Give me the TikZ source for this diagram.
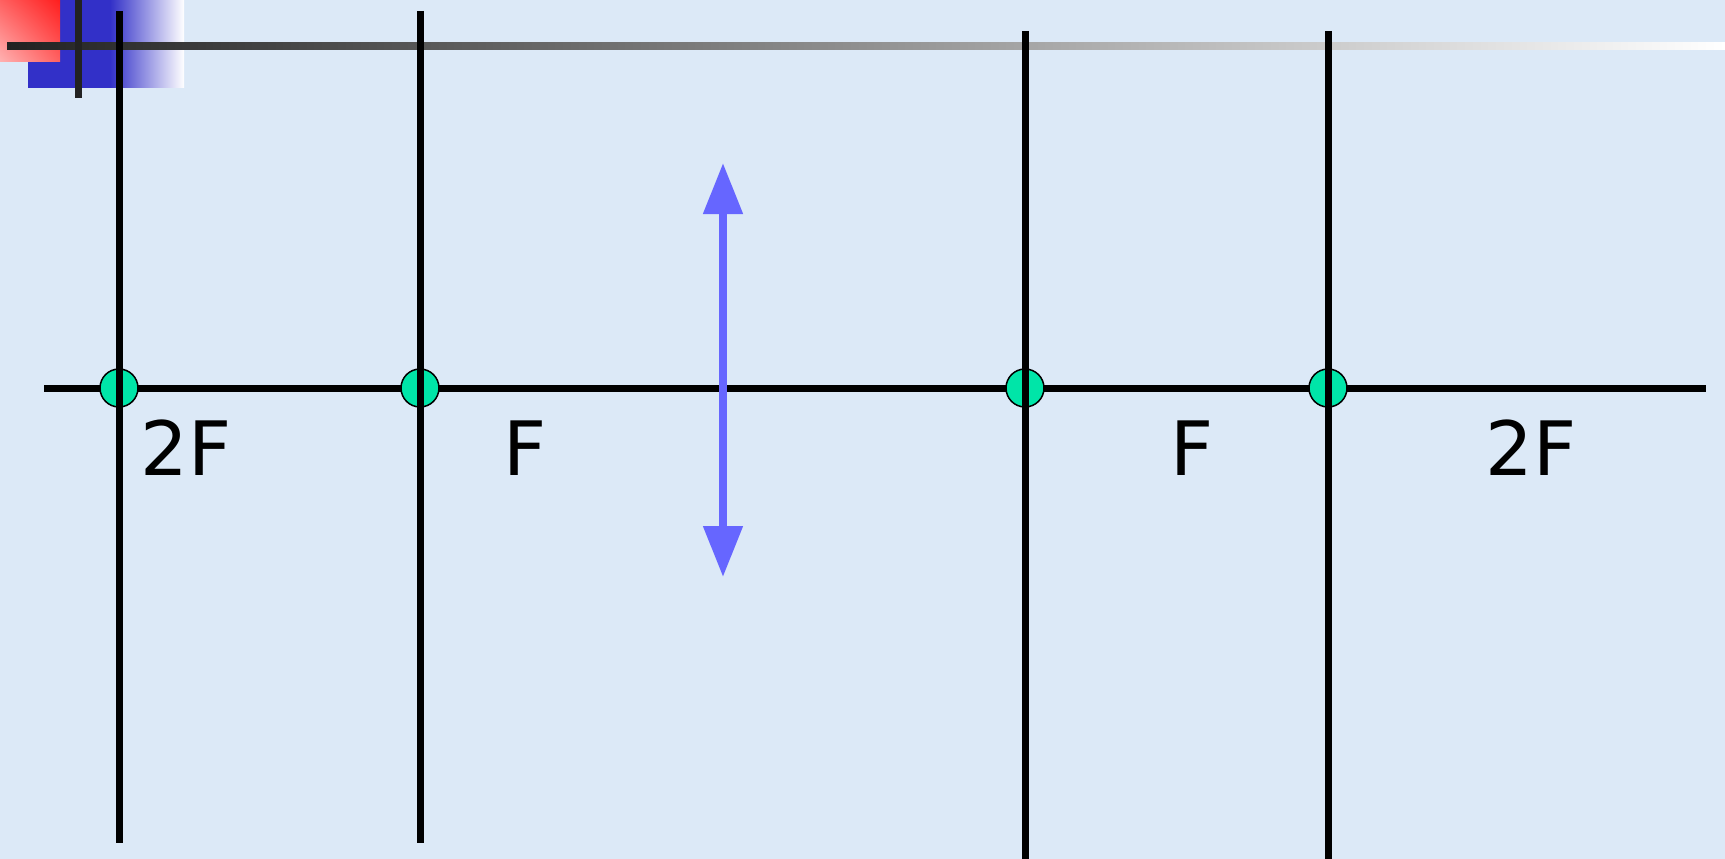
\documentclass[tikz,border=0pt]{standalone}
\usepackage{fontspec}
\setmainfont{DejaVu Sans}
\usetikzlibrary{arrows.meta, positioning, calc, shadings}
\definecolor{fondo}{RGB}{220,233,247}
\definecolor{rojo}{RGB}{255,30,30}
\definecolor{rosa}{RGB}{255,178,178}
\definecolor{azul}{RGB}{50,48,200}
\definecolor{gris}{RGB}{34,34,34}
\definecolor{lila}{RGB}{102,102,255}
\definecolor{verde}{RGB}{0,229,168}
\tikzset{
  linea/.style={line width=7pt, black},
  punto/.style={circle, draw=black, line width=1.5pt, fill=verde,
    minimum size=38pt, inner sep=0pt},
  etiqueta/.style={font=\fontsize{75}{90}\selectfont, inner sep=0pt}
}

\begin{document}
\begin{tikzpicture}[x=1pt, y=-1pt,
  eje/.style={line width=7pt, black},
  lente/.style={{Triangle[length=51pt,width=38pt]}-{Triangle[length=51pt,width=38pt]},
    lila, line width=8pt}]

  % --- Fondo ---
  \fill[fondo] (0,0) rectangle (1725,859);
  \useasboundingbox (0,0) rectangle (1725,859);

  % --- Esquina ---
  \fill[azul] (28,0) rectangle (110,88);
  \shade[left color=azul, right color=white] (110,0) rectangle (184,88);
  \shade[upper right=rojo, lower left=rosa, upper left=rojo!55!rosa,
    lower right=rojo!55!rosa] (0,0) rectangle (60,62);
  \shade[left color=gris, right color=white] (7,43) rectangle (1725,50);
  \fill[gris] (75,0) rectangle (82,98);

  % --- Eje optico ---
  \coordinate (izq) at (44,388);
  \coordinate (der) at (1706,388);
  \draw[eje] (izq) -- (der);

  % --- Focos ---
  \foreach \x/\n in {119/a, 420/b, 1025/c, 1328/d}
    \node[punto] (\n) at (\x,388) {};
  \foreach \n/\ya/\yb in {a/11/843, b/11/843, c/31/859, d/31/859}
    \draw[linea] (\n |- 0,\ya) -- (\n |- 0,\yb);

  % --- Lente ---
  \coordinate (lente-sup) at (723,163);
  \coordinate (lente-inf) at (723,577);
  \draw[lente] (lente-sup) -- (lente-inf);

  % --- Etiquetas ---
  \node[etiqueta] (dosf-izq) at (186,448) {2F};
  \node[etiqueta] (f-izq) at (525,448) {F};
  \node[etiqueta] (f-der) at (1192,448) {F};
  \node[etiqueta] (dosf-der) at (1531,448) {2F};

\end{tikzpicture}
\end{document}
